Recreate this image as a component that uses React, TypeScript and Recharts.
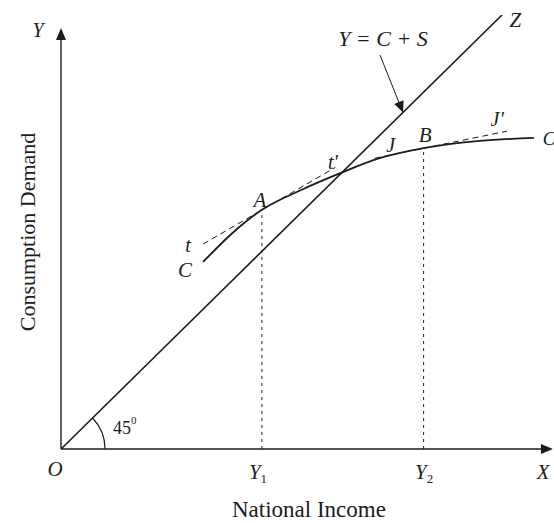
import { ComposedChart, Line, XAxis, YAxis, ReferenceLine, ReferenceDot } from 'recharts';

// consumption function C (national income -> consumption demand)
const incomeLevels = [29, 35, 41, 49, 57, 65, 74, 85.5, 96.5];
const consumption = [38.8, 44.8, 49.6, 53.7, 57.2, 60.3, 62.4, 63.9, 64.5];

// 45 degree line Y = C + S
const guideIncome = [0, 90];
const guideValue = [0, 90];

// tangent tt' at A and JJ' at B
const tangentAIncome = [29, 56];
const tangentAValue = [42.5, 58.4];
const tangentBIncome = [64, 91];
const tangentBValue = [60.3, 65.9];

const Y1 = 41;
const Y2 = 74;

const curveData = incomeLevels.map((x, i) => ({ x, c: consumption[i] }));
const guideData = guideIncome.map((x, i) => ({ x, g: guideValue[i] }));
const tangentA = tangentAIncome.map((x, i) => ({ x, t: tangentAValue[i] }));
const tangentB = tangentBIncome.map((x, i) => ({ x, j: tangentBValue[i] }));

const cAtY1 = consumption[incomeLevels.indexOf(Y1)];
const cAtY2 = consumption[incomeLevels.indexOf(Y2)];

const ink = '#1c1c1c';
const serif = "'Liberation Serif', 'DejaVu Serif', serif";

function txt(key: string, x: number, y: number, body: React.ReactNode, opts: any = {}) {
    return (
        <ReferenceDot
            key={key}
            x={x}
            y={y}
            r={0}
            ifOverflow="visible"
            shape={(p: any) => (
                <text
                    x={p.cx}
                    y={p.cy}
                    textAnchor="middle"
                    dominantBaseline="central"
                    fontFamily={serif}
                    fontSize={opts.size ?? 21}
                    fontStyle={opts.upright ? 'normal' : 'italic'}
                    fill={ink}
                    transform={opts.rotate ? `rotate(${opts.rotate} ${p.cx} ${p.cy})` : undefined}
                >
                    {body}
                </text>
            )}
        />
    );
}

function head(key: string, x: number, y: number, angle: number, len = 12, half = 5) {
    return (
        <ReferenceDot
            key={key}
            x={x}
            y={y}
            r={0}
            ifOverflow="visible"
            shape={(p: any) => (
                <polygon
                    points={`0,0 ${-len},${-half} ${-len},${half}`}
                    fill={ink}
                    transform={`translate(${p.cx} ${p.cy}) rotate(${angle})`}
                />
            )}
        />
    );
}

export default function App() {
    return (
        <div style={{ position: 'absolute', left: 0, top: 0, background: '#fff' }}>
            <ComposedChart
                width={554}
                height={523}
                margin={{ top: 15, right: 3, bottom: 74, left: 61 }}
            >
                <XAxis type="number" dataKey="x" domain={[0, 100]} hide allowDataOverflow />
                <YAxis type="number" domain={[0, 90]} hide allowDataOverflow />

                {/* axes */}
                <ReferenceLine segment={[{ x: 0, y: 0 }, { x: 0, y: 86 }]} stroke={ink} strokeWidth={1.4} ifOverflow="visible" />
                <ReferenceLine segment={[{ x: 0, y: 0 }, { x: 99, y: 0 }]} stroke={ink} strokeWidth={1.4} ifOverflow="visible" />
                {head('ya', 0, 87.3, -90)}
                {head('xa', 100.4, 0, 0)}

                {/* dashed guides to Y1, Y2 */}
                <ReferenceLine segment={[{ x: Y1, y: 0 }, { x: Y1, y: cAtY1 }]} stroke={ink} strokeWidth={1} strokeDasharray="3 4" />
                <ReferenceLine segment={[{ x: Y2, y: 0 }, { x: Y2, y: cAtY2 }]} stroke={ink} strokeWidth={1} strokeDasharray="3 4" />

                <Line data={guideData} dataKey="g" stroke={ink} strokeWidth={1.6} dot={false} isAnimationActive={false} />
                <Line data={tangentA} dataKey="t" stroke={ink} strokeWidth={1} strokeDasharray="6 4" dot={false} isAnimationActive={false} />
                <Line data={tangentB} dataKey="j" stroke={ink} strokeWidth={1} strokeDasharray="6 4" dot={false} isAnimationActive={false} />
                <Line data={curveData} dataKey="c" type="monotone" stroke={ink} strokeWidth={1.8} dot={false} isAnimationActive={false} />

                {/* pointer to the 45 degree line */}
                <ReferenceLine segment={[{ x: 65.1, y: 81.7 }, { x: 69.3, y: 71 }]} stroke={ink} strokeWidth={1} ifOverflow="visible" />
                {head('pa', 69.8, 69.8, 68, 11, 5)}

                {/* 45 degree arc */}
                <ReferenceDot
                    x={0}
                    y={0}
                    r={0}
                    ifOverflow="visible"
                    shape={(p: any) => (
                        <path
                            d={`M ${p.cx + 44} ${p.cy} A 44 44 0 0 0 ${p.cx + 31.5} ${p.cy - 31}`}
                            fill="none"
                            stroke={ink}
                            strokeWidth={1.2}
                        />
                    )}
                />

                {txt('Y', -4.7, 86.9, 'Y', { size: 20 })}
                {txt('Z', 92.7, 89, 'Z')}
                {txt('eq', 65.7, 85.2, 'Y = C + S', { size: 22 })}
                {txt('t2', 55.5, 59.5, "t'", { size: 20 })}
                {txt('t1', 25.9, 42.3, 't', { size: 20 })}
                {txt('C1', 25.3, 37.1, 'C')}
                {txt('A', 40.6, 51.6, 'A')}
                {txt('J', 67.3, 63, 'J', { size: 20 })}
                {txt('B', 74.3, 65.1, 'B')}
                {txt('J2', 89, 68.4, "J'", { size: 20 })}
                {txt('C2', 99.6, 64.3, 'C', { size: 19 })}
                {txt('O', -1.2, -4.2, 'O')}
                {txt('Y1', 40.2, -4.8, <>Y<tspan fontSize={13} fontStyle="normal" dy={6}>1</tspan></>)}
                {txt('Y2', 74.1, -4.8, <>Y<tspan fontSize={13} fontStyle="normal" dy={6}>2</tspan></>)}
                {txt('X', 98.4, -4.8, 'X')}
                {txt('deg', 13, 4.4, <>45<tspan fontSize={11} dy={-8}>0</tspan></>, { upright: true, size: 18 })}
                {txt('ni', 50.6, -12.6, 'National Income', { upright: true, size: 23 })}
                {txt('cd', -6.8, 45, 'Consumption Demand', { upright: true, size: 22, rotate: -90 })}
            </ComposedChart>
        </div>
    );
}
